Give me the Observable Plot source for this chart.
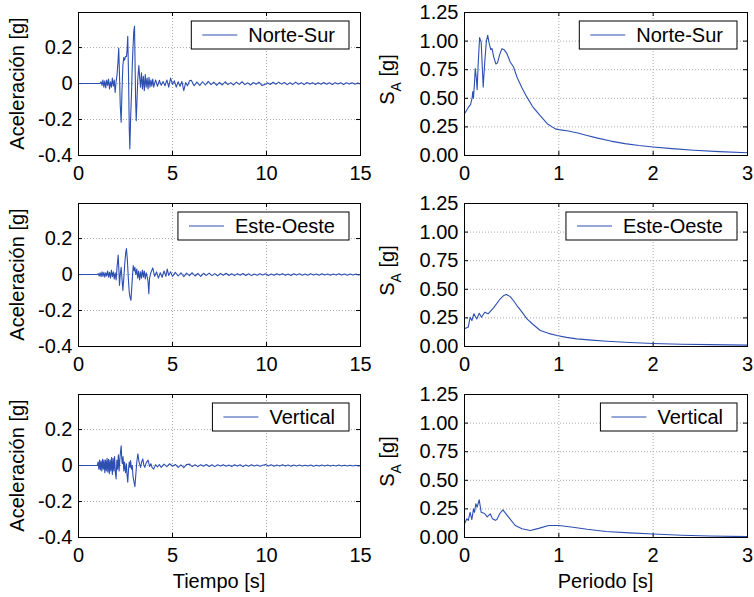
<!DOCTYPE html>
<html><head><meta charset="utf-8">
<script src="https://cdn.jsdelivr.net/npm/d3@7"></script>
<script src="https://cdn.jsdelivr.net/npm/@observablehq/plot@0.6"></script>
<style>
body{margin:0;background:#fff;}
#fig{position:relative;width:754px;height:597px;background:#fff;overflow:hidden;}
#fig svg{position:absolute;}
</style></head><body><div id="fig"></div>
<script>
// ---- Data ----
const components = ["Norte-Sur", "Este-Oeste", "Vertical"];
const timeTicks = [0, 5, 10, 15];
const accTicks = [-0.4, -0.2, 0, 0.2];
const periodTicks = [0, 1, 2, 3];
const saTicks = [0, 0.25, 0.5, 0.75, 1.0, 1.25];

// Acceleration time histories [t (s), a (g)]
const accNS = [[0,0],[1.15,0],[1.2,0.01],[1.25,-0.01],[1.3,0.02],[1.35,-0.02],[1.4,0.015],[1.45,-0.025],[1.5,0.02],[1.55,-0.01],[1.6,0.025],[1.65,-0.03],[1.7,0.01],[1.75,-0.02],[1.8,0.03],[1.85,-0.015],[1.9,0.02],[1.95,-0.05],[2.0,0.01],[2.05,0.05],[2.1,0.12],[2.14,0.198],[2.18,0.05],[2.22,-0.12],[2.27,-0.215],[2.31,-0.05],[2.36,0.1],[2.41,0.146],[2.45,0.13],[2.5,0.15],[2.55,0.15],[2.58,0.18],[2.62,0.263],[2.66,0.05],[2.7,-0.25],[2.73,-0.363],[2.77,-0.2],[2.82,-0.05],[2.86,0.1],[2.9,0.2],[2.94,0.29],[2.98,0.318],[3.01,0.1],[3.04,-0.1],[3.07,-0.206],[3.11,-0.1],[3.15,0.02],[3.21,0.1],[3.25,0.04],[3.3,-0.02],[3.35,0.06],[3.4,-0.03],[3.45,0.04],[3.5,-0.04],[3.55,0.05],[3.6,-0.02],[3.65,0.03],[3.7,-0.03],[3.75,0.035],[3.8,-0.02],[3.85,0.02],[3.9,-0.015],[3.95,0.025],[4.0,-0.02],[4.1,0.02],[4.2,-0.015],[4.3,0.018],[4.4,-0.01],[4.5,0.012],[4.6,-0.012],[4.7,0.02],[4.8,-0.02],[4.9,0.03],[5.0,-0.005],[5.1,0.015],[5.2,-0.02],[5.3,0.01],[5.4,-0.015],[5.5,0.012],[5.6,-0.04],[5.7,0.005],[5.8,-0.012],[5.9,0.015],[6.0,0.018],[6.15,-0.012],[6.3,0.008],[6.45,-0.01],[6.6,0.01],[6.75,-0.008],[6.9,0.012],[7.05,-0.006],[7.2,0.008],[7.35,-0.01],[7.5,0.006],[7.65,-0.008],[7.8,0.01],[7.95,-0.006],[8.1,0.005],[8.25,-0.008],[8.4,0.008],[8.55,-0.005],[8.7,0.01],[8.85,-0.006],[9.0,0.004],[9.15,-0.008],[9.3,0.006],[9.45,-0.004],[9.6,0.008],[9.75,-0.01],[9.9,-0.006],[10.05,0.004],[10.2,-0.005],[10.35,0.007],[10.5,-0.004],[10.65,0.008],[10.8,-0.003],[10.95,0.006],[11.1,-0.006],[11.25,0.004],[11.4,-0.005],[11.55,0.008],[11.7,-0.004],[11.85,0.005],[12.0,-0.006],[12.15,0.006],[12.3,-0.003],[12.45,0.005],[12.6,-0.005],[12.75,0.004],[12.9,-0.004],[13.05,0.006],[13.2,-0.004],[13.35,0.004],[13.5,-0.005],[13.65,0.005],[13.8,-0.003],[13.95,0.004],[14.1,-0.005],[14.25,0.004],[14.4,-0.003],[14.55,0.005],[14.7,-0.004],[14.85,0.003],[15.0,-0.002]];

const accEO = [[0,0],[1.0,0],[1.05,0.005],[1.1,-0.008],[1.15,0.01],[1.2,-0.012],[1.25,0.015],[1.3,-0.01],[1.35,0.012],[1.4,-0.015],[1.45,0.01],[1.5,-0.008],[1.55,0.02],[1.6,-0.015],[1.65,0.012],[1.7,-0.02],[1.75,0.025],[1.8,-0.012],[1.85,0.015],[1.9,-0.025],[1.95,0.01],[2.0,-0.03],[2.05,0.04],[2.11,0.108],[2.15,0.02],[2.18,-0.06],[2.22,0.0],[2.27,0.04],[2.31,-0.02],[2.36,-0.088],[2.41,-0.02],[2.46,0.06],[2.51,0.12],[2.55,0.145],[2.6,0.08],[2.65,-0.02],[2.7,-0.1],[2.75,-0.13],[2.79,-0.143],[2.84,-0.06],[2.91,0.05],[2.96,0.02],[3.0,0.04],[3.05,0.0],[3.1,0.03],[3.15,-0.02],[3.2,0.02],[3.25,-0.03],[3.3,0.015],[3.35,-0.02],[3.4,0.025],[3.45,-0.015],[3.5,0.02],[3.55,-0.025],[3.6,0.01],[3.65,-0.01],[3.7,-0.04],[3.74,-0.106],[3.78,-0.02],[3.85,0.01],[3.95,0.037],[4.05,-0.01],[4.15,0.015],[4.25,-0.02],[4.35,0.01],[4.45,-0.015],[4.55,0.02],[4.65,-0.01],[4.72,0.03],[4.8,-0.005],[4.9,0.015],[5.0,-0.01],[5.15,0.012],[5.3,-0.008],[5.45,0.01],[5.6,-0.012],[5.75,0.008],[5.9,-0.006],[6.05,0.01],[6.2,-0.008],[6.35,0.006],[6.5,-0.01],[6.65,0.007],[6.8,-0.005],[6.95,0.008],[7.1,-0.006],[7.25,0.005],[7.4,-0.007],[7.55,0.006],[7.7,-0.004],[7.85,0.007],[8.0,-0.005],[8.15,0.004],[8.3,-0.006],[8.45,0.005],[8.6,-0.004],[8.75,0.006],[8.9,-0.005],[9.05,0.004],[9.2,-0.006],[9.35,0.003],[9.5,-0.004],[9.65,0.005],[9.8,-0.003],[9.95,0.004],[10.1,-0.005],[10.25,0.003],[10.4,-0.004],[10.55,0.005],[10.7,-0.003],[10.85,0.004],[11.0,-0.004],[11.15,0.003],[11.3,-0.005],[11.45,0.004],[11.6,-0.003],[11.75,0.004],[11.9,-0.004],[12.05,0.003],[12.2,-0.004],[12.35,0.005],[12.5,-0.003],[12.65,0.003],[12.8,-0.004],[12.95,0.004],[13.1,-0.003],[13.25,0.003],[13.4,-0.004],[13.55,0.003],[13.7,-0.003],[13.85,0.004],[14.0,-0.003],[14.15,0.003],[14.3,-0.004],[14.45,0.003],[14.6,-0.003],[14.75,0.003],[14.9,-0.002],[15.0,0.0]];

const accV = [[0,0],[1.0,0],[1.04,0.02],[1.08,-0.02],[1.12,0.03],[1.16,-0.025],[1.2,0.025],[1.24,-0.03],[1.28,0.035],[1.32,-0.02],[1.36,0.03],[1.4,-0.04],[1.44,0.03],[1.48,-0.03],[1.52,0.04],[1.56,-0.035],[1.6,0.035],[1.64,-0.045],[1.68,0.03],[1.72,-0.03],[1.76,0.045],[1.8,-0.05],[1.84,0.04],[1.88,-0.03],[1.92,0.05],[1.96,-0.04],[2.0,-0.074],[2.04,0.03],[2.08,-0.02],[2.12,0.06],[2.16,-0.03],[2.2,0.04],[2.24,0.08],[2.27,0.11],[2.3,0.04],[2.33,0.01],[2.37,0.05],[2.41,-0.03],[2.45,0.02],[2.5,-0.04],[2.55,0.01],[2.58,-0.05],[2.62,-0.093],[2.66,-0.02],[2.7,0.02],[2.74,-0.01],[2.77,0.028],[2.82,-0.02],[2.86,0.0],[2.9,-0.06],[2.95,-0.09],[3.0,-0.117],[3.05,-0.05],[3.1,0.02],[3.16,0.065],[3.22,0.02],[3.3,-0.01],[3.36,0.02],[3.42,0.037],[3.48,0.0],[3.53,-0.01],[3.6,0.015],[3.7,0.03],[3.78,-0.005],[3.85,0.01],[3.92,-0.012],[4.0,-0.02],[4.1,0.005],[4.2,-0.008],[4.3,0.006],[4.4,-0.01],[4.55,0.008],[4.7,-0.006],[4.85,0.01],[5.0,-0.004],[5.15,0.006],[5.3,-0.01],[5.45,0.004],[5.6,-0.012],[5.75,0.006],[5.9,0.008],[6.05,-0.006],[6.2,0.004],[6.35,-0.006],[6.5,0.005],[6.65,-0.004],[6.8,0.006],[6.95,-0.005],[7.1,0.004],[7.25,-0.006],[7.4,0.004],[7.55,-0.003],[7.7,0.005],[7.85,-0.004],[8.0,0.003],[8.15,-0.005],[8.3,0.004],[8.45,-0.003],[8.6,0.004],[8.75,-0.006],[8.9,0.003],[9.05,-0.004],[9.2,0.004],[9.35,-0.003],[9.5,0.003],[9.65,-0.004],[9.8,0.002],[9.95,0.006],[10.1,-0.003],[10.25,0.004],[10.4,-0.004],[10.55,0.003],[10.7,-0.003],[10.85,0.004],[11.0,-0.003],[11.15,0.003],[11.3,-0.004],[11.45,0.003],[11.6,-0.002],[11.75,0.003],[11.9,-0.003],[12.05,0.002],[12.2,-0.003],[12.35,0.003],[12.5,-0.004],[12.65,0.002],[12.8,-0.003],[12.95,0.003],[13.1,-0.002],[13.25,0.003],[13.4,-0.003],[13.55,0.002],[13.7,-0.003],[13.85,0.003],[14.0,-0.002],[14.15,0.002],[14.3,-0.003],[14.45,0.002],[14.6,-0.002],[14.75,0.002],[14.9,-0.002],[15.0,0.0]];

// Response spectra [T (s), SA (g)]
const saNS = [[0,0.365],[0.04,0.42],[0.064,0.444],[0.08,0.5],[0.088,0.56],[0.095,0.5],[0.105,0.62],[0.114,0.76],[0.125,0.68],[0.134,0.575],[0.145,0.8],[0.16,1.03],[0.177,0.99],[0.19,0.75],[0.198,0.598],[0.216,0.83],[0.232,1.0],[0.246,1.05],[0.262,0.98],[0.278,0.925],[0.292,0.935],[0.31,0.86],[0.333,0.80],[0.35,0.81],[0.372,0.88],[0.397,0.934],[0.42,0.925],[0.45,0.89],[0.485,0.817],[0.52,0.773],[0.559,0.68],[0.61,0.59],[0.662,0.51],[0.72,0.43],[0.8,0.35],[0.877,0.278],[0.963,0.233],[1.0,0.226],[1.1,0.214],[1.2,0.196],[1.3,0.175],[1.4,0.154],[1.55,0.126],[1.7,0.104],[1.85,0.087],[2.0,0.074],[2.2,0.06],[2.43,0.046],[2.7,0.034],[3.0,0.024]];

const saEO = [[0,0.155],[0.04,0.17],[0.06,0.256],[0.078,0.227],[0.1,0.286],[0.13,0.24],[0.156,0.29],[0.18,0.256],[0.215,0.3],[0.25,0.286],[0.308,0.338],[0.379,0.417],[0.415,0.445],[0.443,0.455],[0.485,0.436],[0.52,0.4],[0.556,0.358],[0.61,0.3],[0.662,0.242],[0.73,0.19],[0.804,0.14],[0.89,0.115],[0.98,0.096],[1.08,0.08],[1.19,0.067],[1.35,0.056],[1.51,0.046],[1.75,0.035],[2.0,0.026],[2.3,0.02],[2.6,0.016],[3.0,0.012]];

const saV = [[0,0.12],[0.025,0.163],[0.04,0.15],[0.06,0.22],[0.078,0.157],[0.095,0.25],[0.106,0.22],[0.12,0.295],[0.134,0.265],[0.156,0.33],[0.177,0.22],[0.213,0.21],[0.24,0.18],[0.273,0.207],[0.297,0.163],[0.326,0.15],[0.343,0.157],[0.375,0.21],[0.407,0.242],[0.467,0.178],[0.538,0.105],[0.609,0.076],[0.697,0.061],[0.786,0.08],[0.892,0.105],[1.0,0.105],[1.15,0.09],[1.3,0.072],[1.5,0.052],[1.75,0.04],[2.0,0.03],[2.3,0.02],[2.6,0.013],[3.0,0.008]];

const accSeries = [accNS, accEO, accV];
const saSeries = [saNS, saEO, saV];

// ---- Styling ----
const FONT = '"Liberation Sans", Arial, Helvetica, sans-serif';
const FS = 20;
const LINE = "#2d4fb2";
const GRID = "#a8a8a8";
const fig = document.getElementById("fig");

function panel({data, xDomain, yDomain, xTicks, yTicks, yFmt, left, top, width, height, mL, mR, mT, mB, legend, legendGap, yLabel, xLabel}) {
  const innerH = height - mT - mB;
  const innerW = width - mL - mR;
  const chart = Plot.plot({
    width, height,
    marginLeft: mL, marginRight: mR, marginTop: mT, marginBottom: mB,
    style: {fontFamily: FONT, fontSize: FS + "px", background: "transparent", color: "black", overflow: "visible"},
    x: {domain: xDomain},
    y: {domain: yDomain},
    marks: [
      Plot.gridX(xTicks, {stroke: GRID, strokeOpacity: 1, strokeDasharray: "1,2"}),
      Plot.gridY(yTicks, {stroke: GRID, strokeOpacity: 1, strokeDasharray: "1,2"}),
      Plot.tickX(xTicks, {x: d => d, stroke: "black", insetTop: innerH - 4}),
      Plot.tickX(xTicks, {x: d => d, stroke: "black", insetBottom: innerH - 4}),
      Plot.tickY(yTicks, {y: d => d, stroke: "black", insetLeft: innerW - 4}),
      Plot.tickY(yTicks, {y: d => d, stroke: "black", insetRight: innerW - 4}),
      Plot.axisX(xTicks, {tickSize: 0, tickPadding: 10, fontSize: FS, label: null, tickFormat: d => String(d)}),
      Plot.axisY(yTicks, {tickSize: 0, tickPadding: 6, fontSize: FS, label: null, tickFormat: yFmt}),
      Plot.line(data, {x: d => d[0], y: d => d[1], stroke: LINE, strokeWidth: 1.1, curve: "linear"}),
      Plot.frame({stroke: "black", strokeWidth: 1})
    ]
  });
  chart.style.left = left + "px";
  chart.style.top = top + "px";
  fig.appendChild(chart);
  const svg = d3.select(chart);
  // y label
  const cy = mT + innerH / 2;
  if (yLabel === "acc") {
    svg.append("text").attr("transform", `translate(24,${cy}) rotate(-90)`)
      .attr("text-anchor", "middle").attr("font-family", FONT).attr("font-size", FS).attr("fill", "black")
      .text("Aceleración [g]");
  } else {
    const t = svg.append("text").attr("transform", `translate(17,${cy - 4}) rotate(-90)`)
      .attr("text-anchor", "middle").attr("font-family", FONT).attr("font-size", FS).attr("fill", "black");
    t.append("tspan").text("S");
    t.append("tspan").attr("font-size", 14).attr("dy", 7).text("A");
    t.append("tspan").attr("dy", -7).text(" [g]");
  }
  if (xLabel) {
    svg.append("text").attr("x", mL + innerW / 2).attr("y", mT + innerH + 51)
      .attr("text-anchor", "middle").attr("font-family", FONT).attr("font-size", FS).attr("fill", "black")
      .text(xLabel);
  }
  // legend box
  const g = svg.append("g").attr("text-anchor", "start");
  const txt = g.append("text").attr("text-anchor", "start").attr("font-family", FONT).attr("font-size", FS).attr("fill", "black").text(legend);
  const tw = txt.node().getComputedTextLength();
  const boxW = 57 + tw + 14, boxH = 28;
  const bx = mL + innerW - legendGap - boxW, by = mT + 9;
  g.insert("rect", "text").attr("x", bx).attr("y", by).attr("width", boxW).attr("height", boxH)
    .attr("fill", "white").attr("stroke", "black").attr("stroke-width", 1);
  g.insert("line", "text").attr("x1", bx + 11).attr("x2", bx + 46).attr("y1", by + 14).attr("y2", by + 14)
    .attr("stroke", LINE).attr("stroke-width", 1.1);
  txt.attr("x", bx + 57).attr("y", by + 21);
}

const rowTops = [0, 191, 382];
components.forEach((name, i) => {
  const last = i === 2;
  const h = last ? 215 : 191;
  const mB = h - 12 - 143;
  panel({data: accSeries[i], xDomain: [0, 15], yDomain: [-0.4, 0.395], xTicks: timeTicks, yTicks: accTicks,
    yFmt: d => String(d), left: 0, top: rowTops[i], width: 377, height: h, mL: 78, mR: 17, mT: 12, mB,
    legend: name, legendGap: 11, yLabel: "acc", xLabel: last ? "Tiempo [s]" : null});
  panel({data: saSeries[i], xDomain: [0, 3], yDomain: [0, 1.25], xTicks: periodTicks, yTicks: saTicks,
    yFmt: d => d.toFixed(2), left: 377, top: rowTops[i], width: 377, height: h, mL: 87, mR: 7, mT: 12, mB,
    legend: name, legendGap: 10, yLabel: "sa", xLabel: last ? "Periodo [s]" : null});
});
</script></body></html>
